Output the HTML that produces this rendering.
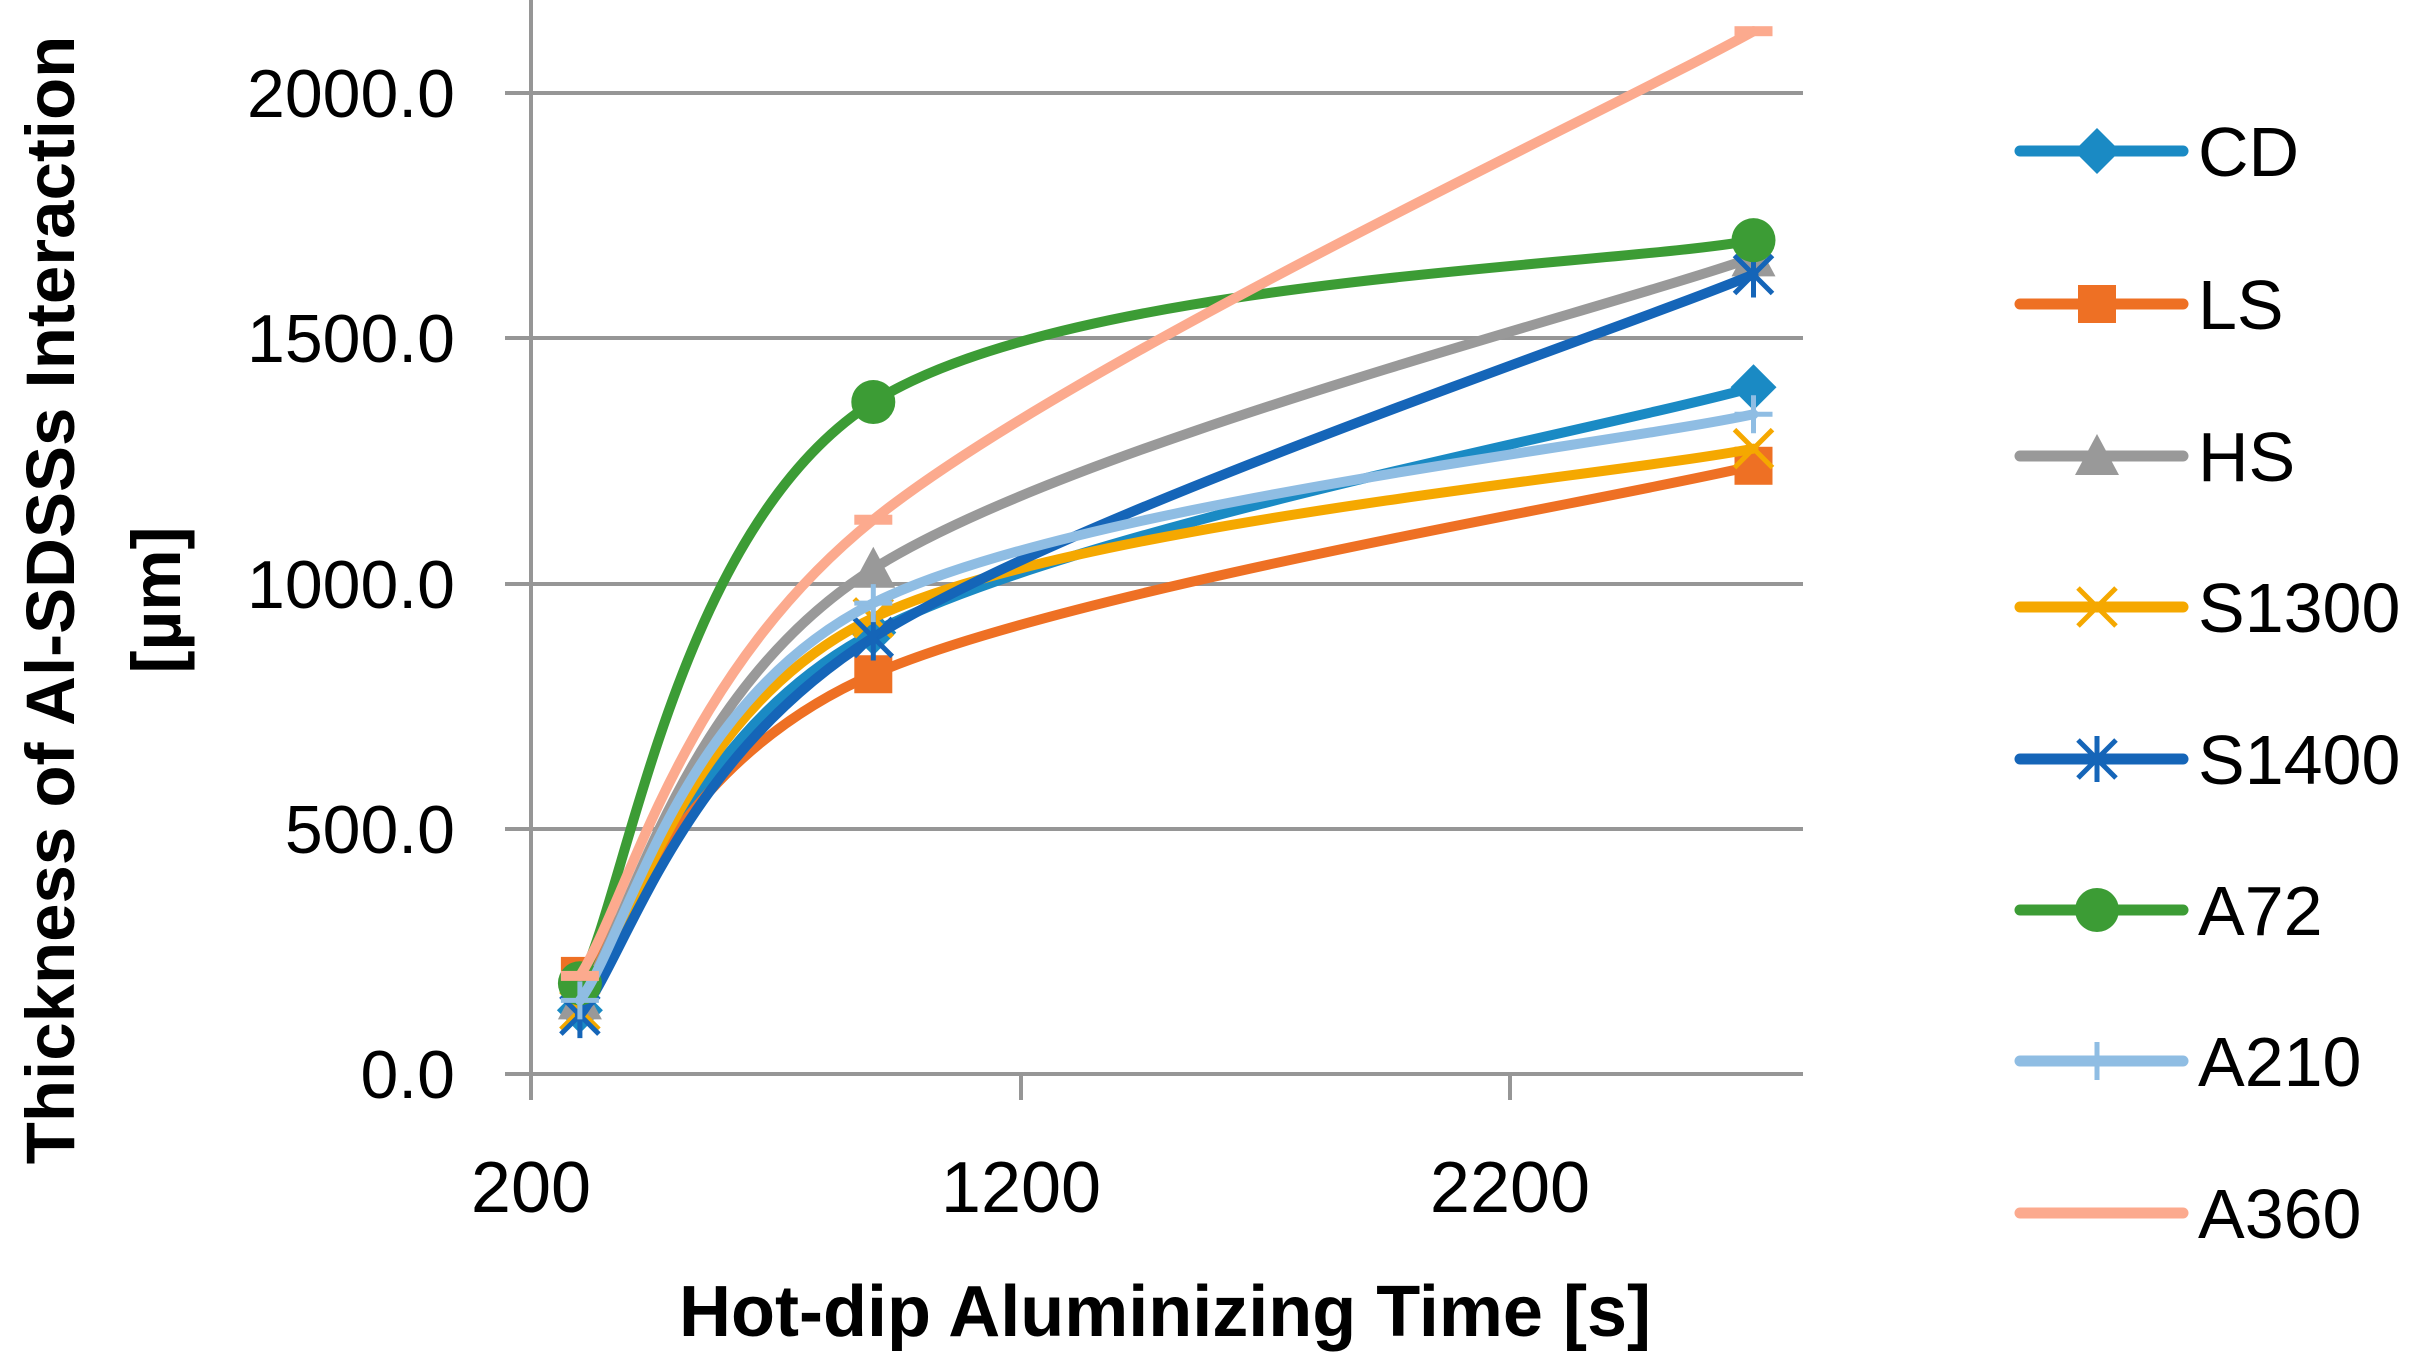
<!DOCTYPE html>
<html><head><meta charset="utf-8"><style>
html,body{margin:0;padding:0;background:#fff;}
svg{display:block;font-family:"Liberation Sans",sans-serif;}
</style></head><body>
<svg id="s" width="2414" height="1360" viewBox="0 0 2414 1360" xmlns="http://www.w3.org/2000/svg">
<g stroke="#969696" stroke-width="4">
<line x1="505" y1="93" x2="1803" y2="93"/>
<line x1="505" y1="338" x2="1803" y2="338"/>
<line x1="505" y1="584" x2="1803" y2="584"/>
<line x1="505" y1="829" x2="1803" y2="829"/>
<line x1="505" y1="1074" x2="1803" y2="1074"/>
<line x1="531" y1="0" x2="531" y2="1100"/>
<line x1="1021" y1="1074" x2="1021" y2="1100"/>
<line x1="1510" y1="1074" x2="1510" y2="1100"/>
</g>
<g font-size="68" text-anchor="end" fill="#000">
<text x="455" y="117">2000.0</text>
<text x="455" y="362">1500.0</text>
<text x="455" y="608">1000.0</text>
<text x="455" y="853">500.0</text>
<text x="455" y="1098">0.0</text>
</g>
<g font-size="72" text-anchor="middle">
<text x="531" y="1212">200</text>
<text x="1021" y="1212">1200</text>
<text x="1510" y="1212">2200</text>
</g>
<text x="1165" y="1336" font-size="72" font-weight="bold" text-anchor="middle">Hot-dip Aluminizing Time [s]</text>
<g font-size="69" font-weight="bold" text-anchor="middle">
<text transform="translate(74,600) rotate(-90)">Thickness of Al-SDSSs Interaction</text>
<text transform="translate(180,600) rotate(-90)">[µm]</text>
</g>
<g id="series"></g>
<g id="legend" font-size="70"></g>
</svg>
<script>
var S=[
["CD","#1a8ac4","d",[130,900,1400]],
["LS","#ee7024","s",[200,815,1240]],
["HS","#999999","t",[150,1030,1665]],
["S1300","#f5a800","x",[130,930,1275]],
["S1400","#1565b8","*",[120,890,1630]],
["A72","#3c9c35","c",[185,1370,1700]],
["A210","#8fbde3","+",[150,960,1345]],
["A360","#fcaa8e","-",[200,1130,2126]]];
var xs=[300,900,2700];
function X(v){return 531+(v-200)*0.489;}
function Y(v){return 1074-v*0.4905;}
var ns="http://www.w3.org/2000/svg";
function el(t,a,p){var e=document.createElementNS(ns,t);for(var k in a)e.setAttribute(k,a[k]);p.appendChild(e);return e;}
function marker(g,type,c,x,y){
 var r=19;
 if(type=="d")el("path",{d:"M"+x+","+(y-r-4)+"L"+(x+r+4)+","+y+"L"+x+","+(y+r+4)+"L"+(x-r-4)+","+y+"Z",fill:c},g);
 else if(type=="s")el("rect",{x:x-r,y:y-r,width:2*r,height:2*r,fill:c},g);
 else if(type=="t")el("path",{d:"M"+x+","+(y-r-3)+"L"+(x+r+3)+","+(y+r)+"L"+(x-r-3)+","+(y+r)+"Z",fill:c},g);
 else if(type=="c")el("circle",{cx:x,cy:y,r:r+3,fill:c},g);
 else if(type=="x")el("path",{d:"M"+(x-r)+","+(y-r)+"L"+(x+r)+","+(y+r)+"M"+(x+r)+","+(y-r)+"L"+(x-r)+","+(y+r),stroke:c,"stroke-width":5,fill:"none"},g);
 else if(type=="*")el("path",{d:"M"+(x-r)+","+(y-r)+"L"+(x+r)+","+(y+r)+"M"+(x+r)+","+(y-r)+"L"+(x-r)+","+(y+r)+"M"+x+","+(y-r-4)+"L"+x+","+(y+r+4),stroke:c,"stroke-width":5,fill:"none"},g);
 else if(type=="+")el("path",{d:"M"+(x-r)+","+y+"L"+(x+r)+","+y+"M"+x+","+(y-r)+"L"+x+","+(y+r),stroke:c,"stroke-width":5,fill:"none"},g);
 else if(type=="-")el("rect",{x:x-r,y:y-5,width:2*r,height:10,fill:c},g);
}
var g=document.getElementById("series");
S.forEach(function(s){
 var P=xs.map(function(x,i){return [X(x),Y(s[3][i])];});
 var d="M"+P[0][0]+","+P[0][1];
 for(var i=0;i<P.length-1;i++){
  var p0=P[i>0?i-1:i],p1=P[i],p2=P[i+1],p3=P[i+2<P.length?i+2:i+1];
  var c1=[p1[0]+(p2[0]-p0[0])/6,p1[1]+(p2[1]-p0[1])/6];
  var c2=[p2[0]-(p3[0]-p1[0])/6,p2[1]-(p3[1]-p1[1])/6];
  d+="C"+c1+" "+c2+" "+p2;
 }
 el("path",{d:d,stroke:s[1],"stroke-width":10,fill:"none","stroke-linejoin":"round","stroke-linecap":"round"},g);
 P.forEach(function(p){marker(g,s[2],s[1],p[0],p[1]);});
});
var L=document.getElementById("legend");
var ly=[151,304,456,607,759,910,1061,1213];
S.forEach(function(s,i){
 el("line",{x1:2020,y1:ly[i],x2:2183,y2:ly[i],stroke:s[1],"stroke-width":11,"stroke-linecap":"round"},L);
 marker(L,s[2],s[1],2097,ly[i]);
 var t=el("text",{x:2198,y:ly[i]+25},L);t.textContent=s[0];
});
</script>
</body></html>
